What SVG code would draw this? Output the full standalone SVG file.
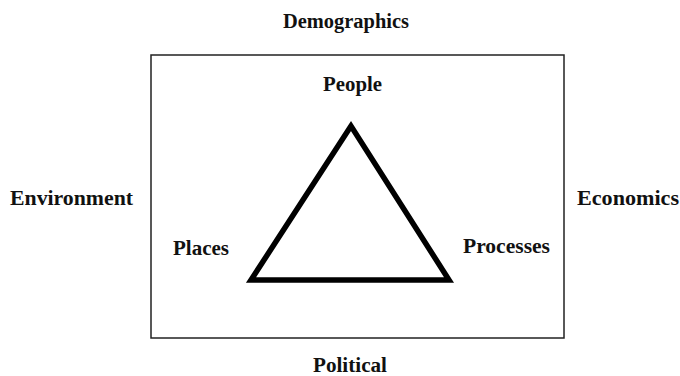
<svg xmlns="http://www.w3.org/2000/svg" width="680" height="376" viewBox="0 0 680 376">
  <style>
    .lbl { font-family: "Liberation Serif", "DejaVu Serif", serif; font-weight: bold; font-size: 20px; fill: #111; }
  </style>
  <rect width="680" height="376" fill="#fff"/>
  <g id="connectors">
    <!-- outer frame -->
    <rect x="151" y="55" width="413" height="283" fill="none" stroke="#222" stroke-width="1.5"/>
    <!-- central triangle -->
    <polygon points="351,126 251,280 449,280" fill="none" stroke="#000" stroke-width="5.5" stroke-linejoin="miter"/>
  </g>
  <g id="demographics"><text class="lbl" x="283" y="28" textLength="126" lengthAdjust="spacingAndGlyphs">Demographics</text></g>
  <g id="people"><text class="lbl" x="323" y="91" textLength="59" lengthAdjust="spacingAndGlyphs">People</text></g>
  <g id="environment"><text class="lbl" x="10" y="205" textLength="123" lengthAdjust="spacingAndGlyphs">Environment</text></g>
  <g id="economics"><text class="lbl" x="577" y="205" textLength="102" lengthAdjust="spacingAndGlyphs">Economics</text></g>
  <g id="places"><text class="lbl" x="173" y="255" textLength="56" lengthAdjust="spacingAndGlyphs">Places</text></g>
  <g id="processes"><text class="lbl" x="463" y="253" textLength="87" lengthAdjust="spacingAndGlyphs">Processes</text></g>
  <g id="political"><text class="lbl" x="313" y="372" textLength="74" lengthAdjust="spacingAndGlyphs">Political</text></g>
</svg>
